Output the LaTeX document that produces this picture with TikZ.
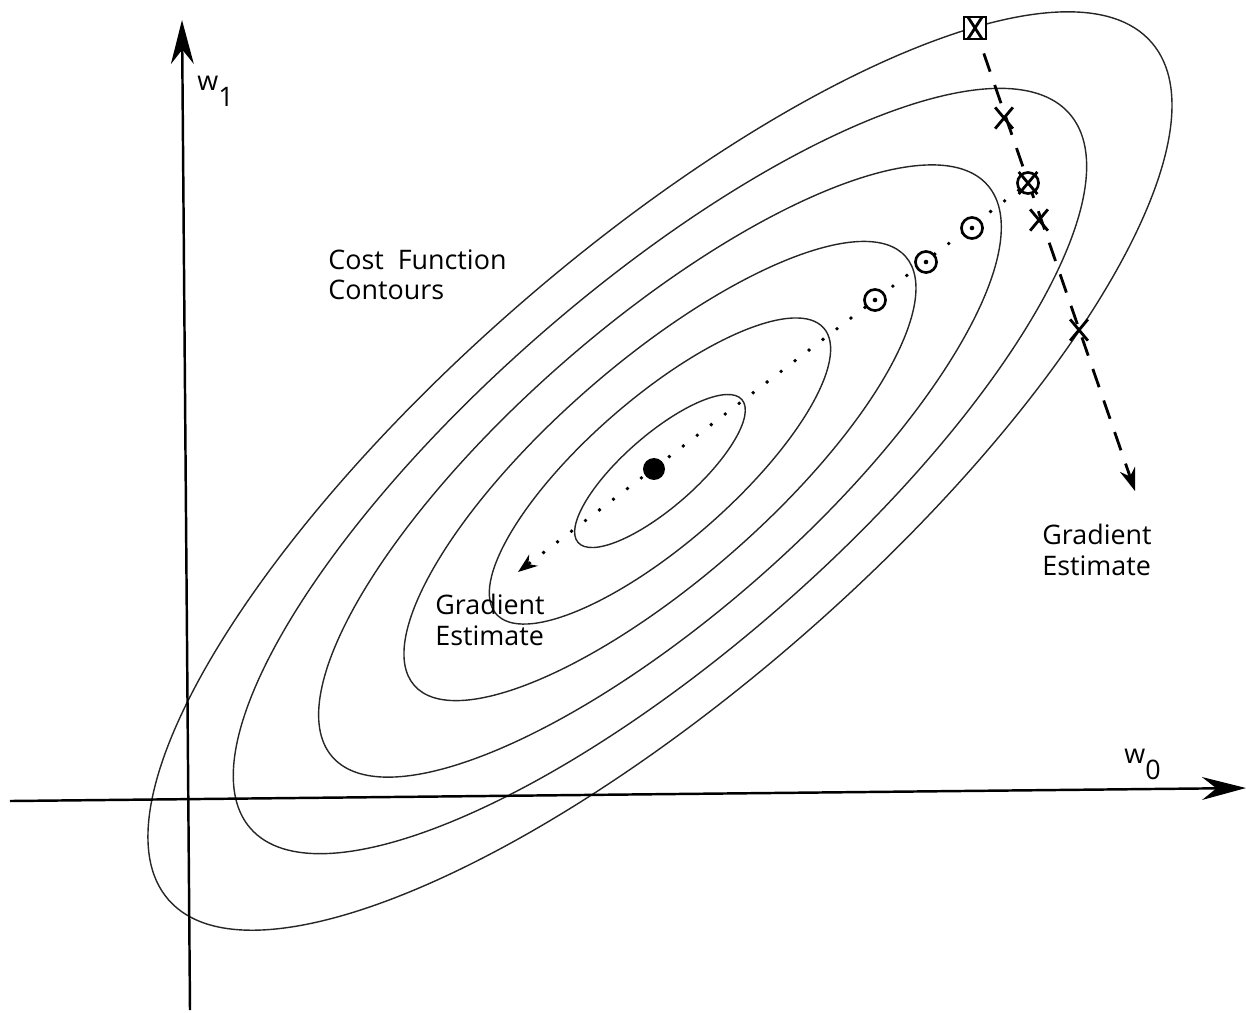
\documentclass[tikz,border=0pt]{standalone}
\usepackage{fontspec}
\setmainfont{Open Sans}
\usetikzlibrary{arrows.meta,shapes.misc,backgrounds}

\begin{document}
\begin{tikzpicture}[x=0.02cm,y=-0.02cm,
    contour/.style={draw=black!85,line width=0.8pt},
    axis/.style={line width=1.4pt,-{Stealth[length=25pt,width=13pt]}},
    lbl/.style={inner sep=0pt,align=left,anchor=north west,font=\fontsize{15.3}{17.2}\selectfont},
    xmark/.style={cross out,draw,line width=1.6pt,minimum width=8.5pt,minimum height=10.5pt,inner sep=0pt},
    omark/.style={circle,draw,fill=white,line width=1.5pt,minimum size=12pt,inner sep=0pt},
    odot/.style={omark,path picture={\fill[black] (path picture bounding box.center) circle (1.3pt);}},
    sqmark/.style={rectangle,draw,fill=white,line width=1.3pt,minimum size=12.5pt,inner sep=0pt}]
    \useasboundingbox (0,0) rectangle (1246,1012);
    \coordinate (c) at (660,471);
    \coordinate (xs) at (10,801);
    \coordinate (xe) at (1246,788);
    \coordinate (ys) at (190,1010);
    \coordinate (ye) at (182,20);
    \coordinate (gl) at (518,572);
    \coordinate (gr) at (1135,491);

    % markers along the two paths
    \node[circle,fill,minimum size=12.5pt,inner sep=0pt] (min) at (654,469) {};
    \node[sqmark] (p0) at (975,28) {};
    \node[xmark,minimum width=6.5pt,minimum height=11pt] at (p0) {};
    \node[xmark] (x1) at (1004,118) {};
    \node[omark] (ox) at (1028,183) {};
    \node[xmark,minimum width=9pt,minimum height=11pt] at (ox) {};
    \node[xmark] (x2) at (1039,220) {};
    \node[xmark] (x3) at (1079,330) {};
    \node[odot] (o1) at (972,228) {};
    \node[odot] (o2) at (926,262) {};
    \node[odot] (o3) at (875,300) {};

    \begin{scope}[on background layer]
        \foreach \k in {1,...,6}
            \draw[contour,rotate around={41.1:(c)}] (c) ellipse [x radius=108.7*\k,y radius=36.3*\k];
        \draw[axis] (xs) -- (xe);
        \draw[axis] (ys) -- (ye);
        \draw[line width=2.2pt,line cap=round,dash pattern=on 0pt off 10pt,
            -{Stealth[length=11pt,width=8pt]}] (ox) -- (gl);
        \draw[line width=1.6pt,dash pattern=on 11pt off 8pt,dash phase=-8pt,
            -{Stealth[length=13pt,width=9pt]}] (p0) -- (gr);
    \end{scope}

    \node[lbl] (cost) at (328,249) {Cost\ \ Function\\Contours};
    \node[lbl] (estl) at (435,594) {Gradient\\Estimate};
    \node[lbl] (estr) at (1042,524) {Gradient\\Estimate};
    \node[lbl,anchor=base west] (w1) at (197,90) {w\raisebox{-0.6em}{1}};
    \node[lbl,anchor=base west] (w0) at (1124,763) {w\raisebox{-0.6em}{0}};
\end{tikzpicture}
\end{document}
